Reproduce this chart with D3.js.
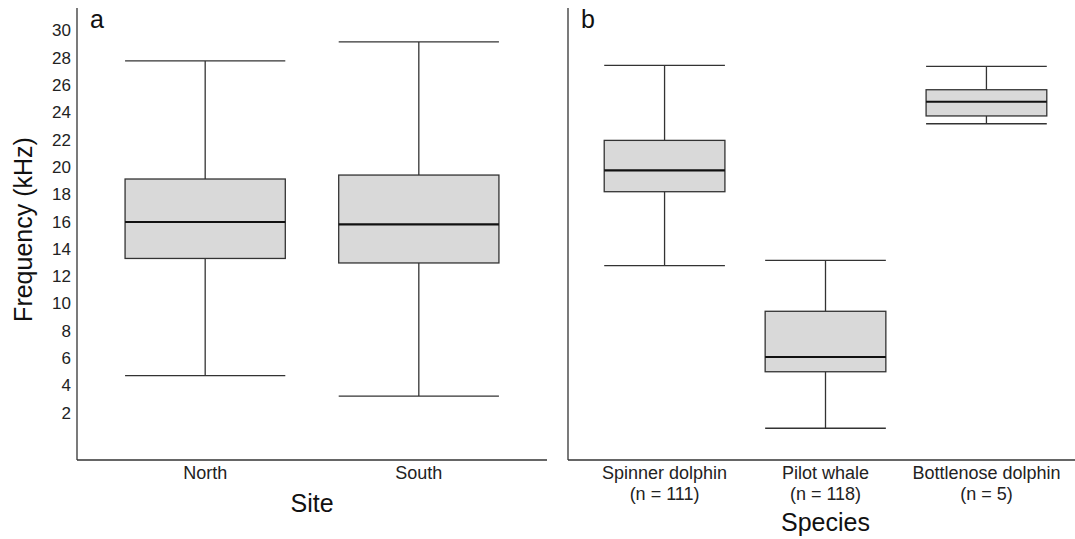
<!DOCTYPE html>
<html><head><meta charset="utf-8">
<script src="https://cdn.jsdelivr.net/npm/d3@7"></script>
<style>body{margin:0;background:#fff}svg{display:block}text{font-family:"Liberation Sans",Arial,sans-serif}</style>
</head><body>
<svg id="c" width="1075" height="539"></svg>
<script>
const sites = ["North", "South"];
const siteMin = [4.71, 3.22];
const siteQ1 = [13.3, 12.97];
const siteMed = [15.97, 15.79];
const siteQ3 = [19.12, 19.41];
const siteMax = [27.77, 29.16];

const species = ["Spinner dolphin", "Pilot whale", "Bottlenose dolphin"];
const speciesN = ["(n = 111)", "(n = 118)", "(n = 5)"];
const spMin = [12.77, 0.86, 23.17];
const spQ1 = [18.19, 5.0, 23.74];
const spMed = [19.75, 6.08, 24.78];
const spQ3 = [21.95, 9.43, 25.66];
const spMax = [27.45, 13.16, 27.37];

const yTicks = [2,4,6,8,10,12,14,16,18,20,22,24,26,28,30];

const svg = d3.select("#c");
const y = d3.scaleLinear().domain([0, 30]).range([440, 30.5]);
const axTop = 8, axBottom = 460;

function panel(cats, mins, q1s, meds, q3s, maxs, x0, x1, label, title, titleY, sub) {
  const x = d3.scalePoint().domain(cats).range([x0, x1]).padding(0.6);
  const bw = x.step() * 0.75;
  const g = svg.append("g");
  g.append("line").attr("x1", x0).attr("x2", x0).attr("y1", axTop).attr("y2", axBottom)
    .attr("stroke", "#333").attr("stroke-width", 1.3);
  g.append("line").attr("x1", x0).attr("x2", x1).attr("y1", axBottom).attr("y2", axBottom)
    .attr("stroke", "#333").attr("stroke-width", 1.3);
  cats.forEach((c, i) => {
    const cx = x(c);
    const bx = g.append("g");
    bx.append("line").attr("x1", cx).attr("x2", cx).attr("y1", y(maxs[i])).attr("y2", y(q3s[i]))
      .attr("stroke", "#333").attr("stroke-width", 1.3);
    bx.append("line").attr("x1", cx).attr("x2", cx).attr("y1", y(q1s[i])).attr("y2", y(mins[i]))
      .attr("stroke", "#333").attr("stroke-width", 1.3);
    bx.append("line").attr("x1", cx - bw/2).attr("x2", cx + bw/2).attr("y1", y(maxs[i])).attr("y2", y(maxs[i]))
      .attr("stroke", "#333").attr("stroke-width", 1.3);
    bx.append("line").attr("x1", cx - bw/2).attr("x2", cx + bw/2).attr("y1", y(mins[i])).attr("y2", y(mins[i]))
      .attr("stroke", "#333").attr("stroke-width", 1.3);
    bx.append("rect").attr("x", cx - bw/2).attr("width", bw).attr("y", y(q3s[i])).attr("height", y(q1s[i]) - y(q3s[i]))
      .attr("fill", "#d9d9d9").attr("stroke", "#333").attr("stroke-width", 1.3);
    bx.append("line").attr("x1", cx - bw/2).attr("x2", cx + bw/2).attr("y1", y(meds[i])).attr("y2", y(meds[i]))
      .attr("stroke", "#111").attr("stroke-width", 2.2);
    g.append("text").attr("x", cx).attr("y", 479).attr("text-anchor", "middle")
      .attr("font-size", 18).attr("fill", "#222").text(c);
    if (sub) g.append("text").attr("x", cx).attr("y", 500).attr("text-anchor", "middle")
      .attr("font-size", 18).attr("fill", "#222").text(sub[i]);
  });
  g.append("text").attr("x", x0 + 13).attr("y", 28).attr("font-size", 25).attr("fill", "#111").text(label);
  g.append("text").attr("x", (x(cats[0]) + x(cats[cats.length-1])) / 2).attr("y", titleY)
    .attr("text-anchor", "middle").attr("font-size", 25).attr("fill", "#111").text(title);
  return x;
}

panel(sites, siteMin, siteQ1, siteMed, siteQ3, siteMax, 77, 547, "a", "Site", 512, null);
panel(species, spMin, spQ1, spMed, spQ3, spMax, 568, 1083, "b", "Species", 531, speciesN);

svg.append("g").selectAll("text").data(yTicks).join("text")
  .attr("x", 71).attr("y", d => y(d)).attr("dy", "0.35em").attr("text-anchor", "end")
  .attr("font-size", 17).attr("fill", "#222").text(d => d);

svg.append("text").attr("transform", "translate(32,229.5) rotate(-90)")
  .attr("text-anchor", "middle").attr("font-size", 25).attr("fill", "#111").text("Frequency (kHz)");
</script>
</body></html>
